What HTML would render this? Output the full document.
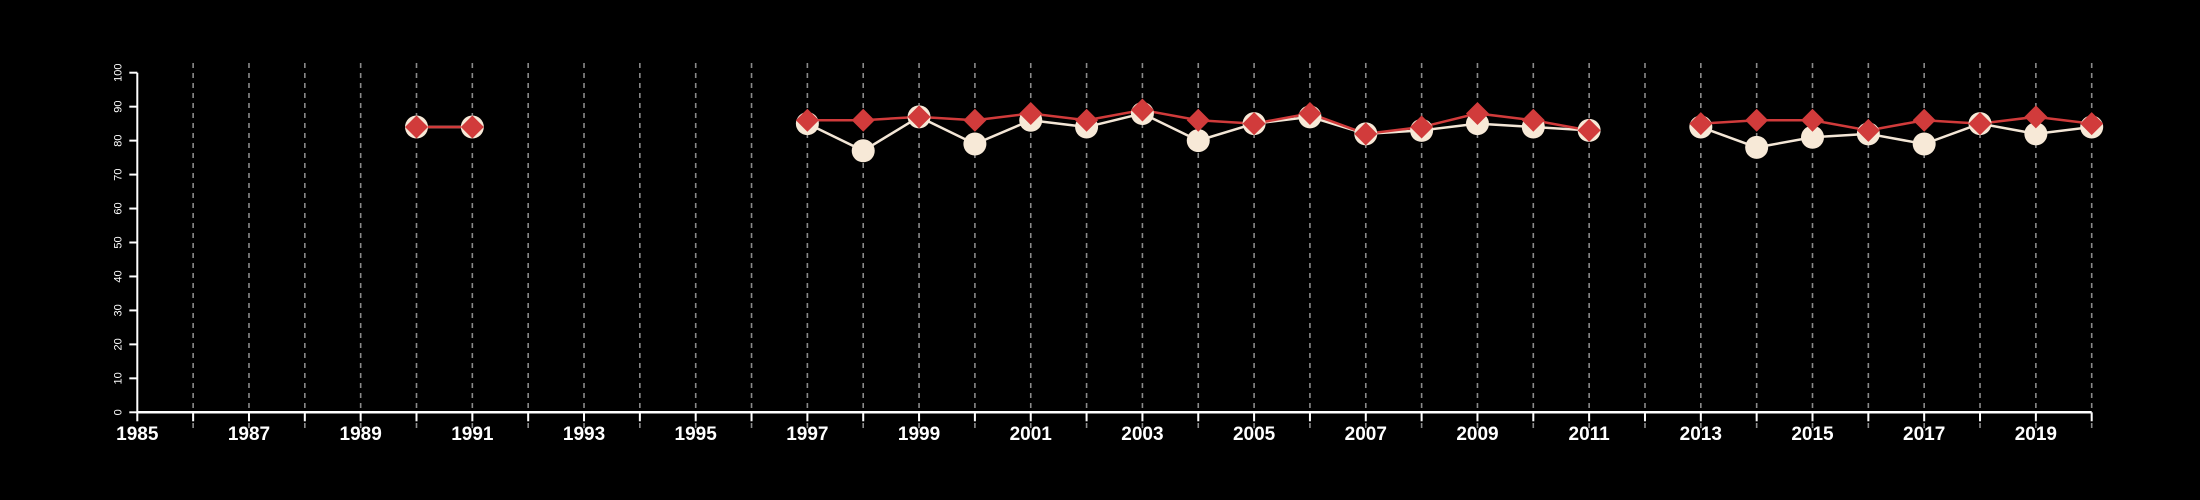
<!DOCTYPE html>
<html><head><meta charset="utf-8"><style>
html,body{margin:0;padding:0;background:#000;}
svg{display:block;font-family:"Liberation Sans",sans-serif;}
</style></head><body>
<svg id="chart" width="2200" height="500" viewBox="0 0 2200 500"></svg>
<script>
const years = [1990,1991,1997,1998,1999,2000,2001,2002,2003,2004,2005,2006,2007,2008,2009,2010,2011,2013,2014,2015,2016,2017,2018,2019,2020];
const seriesCream = [84,84,85,77,87,79,86,84,88,80,85,87,82,83,85,84,83,84,78,81,82,79,85,82,84];
const seriesRed = [84,84,86,86,87,86,88,86,89,86,85,88,82,84,88,86,83,85,86,86,83,86,85,87,85];
const yTicks = [0,10,20,30,40,50,60,70,80,90,100];
const xLabelYears = [1985,1987,1989,1991,1993,1995,1997,1999,2001,2003,2005,2007,2009,2011,2013,2015,2017,2019];

const NS = "http://www.w3.org/2000/svg";
const svg = document.getElementById("chart");
const x0 = 137.3, pxYear = 55.84, y0 = 412.3, pxUnit = 3.396;
const xs = yr => x0 + (yr - 1985) * pxYear;
const ys = v => y0 - v * pxUnit;
function mk(tag, attrs, parent){ const e = document.createElementNS(NS, tag); for (const k in attrs) e.setAttribute(k, attrs[k]); (parent||svg).appendChild(e); return e; }

// grid lines
const grid = mk("g", {});


for (let yr = 1986; yr <= 2020; yr++) {
  const l = mk("line", {x1: xs(yr), x2: xs(yr), y1: 63, y2: 428, stroke: "#8a8a8a", "stroke-width": 1.6, "stroke-dasharray": "5,5"}, grid);
  
  
}

// y axis
const yAxis = mk("g", {});


mk("line", {x1: x0, x2: x0, y1: ys(100), y2: ys(0), stroke: "#fff", "stroke-width": 2}, yAxis);
yTicks.forEach(t => {
  mk("line", {x1: x0 - 8, x2: x0, y1: ys(t), y2: ys(t), stroke: "#fff", "stroke-width": 2}, yAxis);
  const tx = mk("text", {x: 0, y: 0, fill: "#fff", "font-size": 11, "text-anchor": "middle", transform: `translate(${x0 - 16},${ys(t)}) rotate(-90)`}, yAxis);
  tx.textContent = t;
  
  
});

// x axis
const xAxis = mk("g", {});


mk("line", {x1: xs(1985), x2: xs(2020), y1: y0, y2: y0, stroke: "#fff", "stroke-width": 2.5}, xAxis);
for (let yr = 1985; yr <= 2020; yr++) {
  mk("line", {x1: xs(yr), x2: xs(yr), y1: y0, y2: y0 + 9, stroke: "#fff", "stroke-width": 2}, xAxis);
}
xLabelYears.forEach(yr => {
  const tx = mk("text", {x: xs(yr), y: 440, fill: "#fff", "font-size": 19, "font-weight": "bold", "text-anchor": "middle"}, xAxis);
  tx.textContent = yr;
  
  
});

// segments (break at gaps)
function segments(vals){
  const segs = []; let cur = [];
  years.forEach((yr, i) => {
    if (i > 0 && yr - years[i-1] > 1) { segs.push(cur); cur = []; }
    cur.push([xs(yr), ys(vals[i])]);
  });
  segs.push(cur); return segs;
}
function drawLine(vals, color, name){
  segments(vals).forEach(s => {
    const p = mk("polyline", {points: s.map(q => q.join(",")).join(" "), fill: "none", stroke: color, "stroke-width": 2.5});
    
    
  });
}
drawLine(seriesCream, "#f3e6d6", "cream-series-line");
drawLine(seriesRed, "#d13b3b", "red-series-line");

years.forEach((yr, i) => {
  const c = mk("circle", {cx: xs(yr), cy: ys(seriesCream[i]), r: 11.5, fill: "#f7e9d7"});
  
  
});
years.forEach((yr, i) => {
  const cx = xs(yr), cy = ys(seriesRed[i]), d = 11.5;
  const p = mk("polygon", {points: `${cx},${cy-d} ${cx+d},${cy} ${cx},${cy+d} ${cx-d},${cy}`, fill: "#d13b3b"});
  
  
});
</script>
</body></html>
